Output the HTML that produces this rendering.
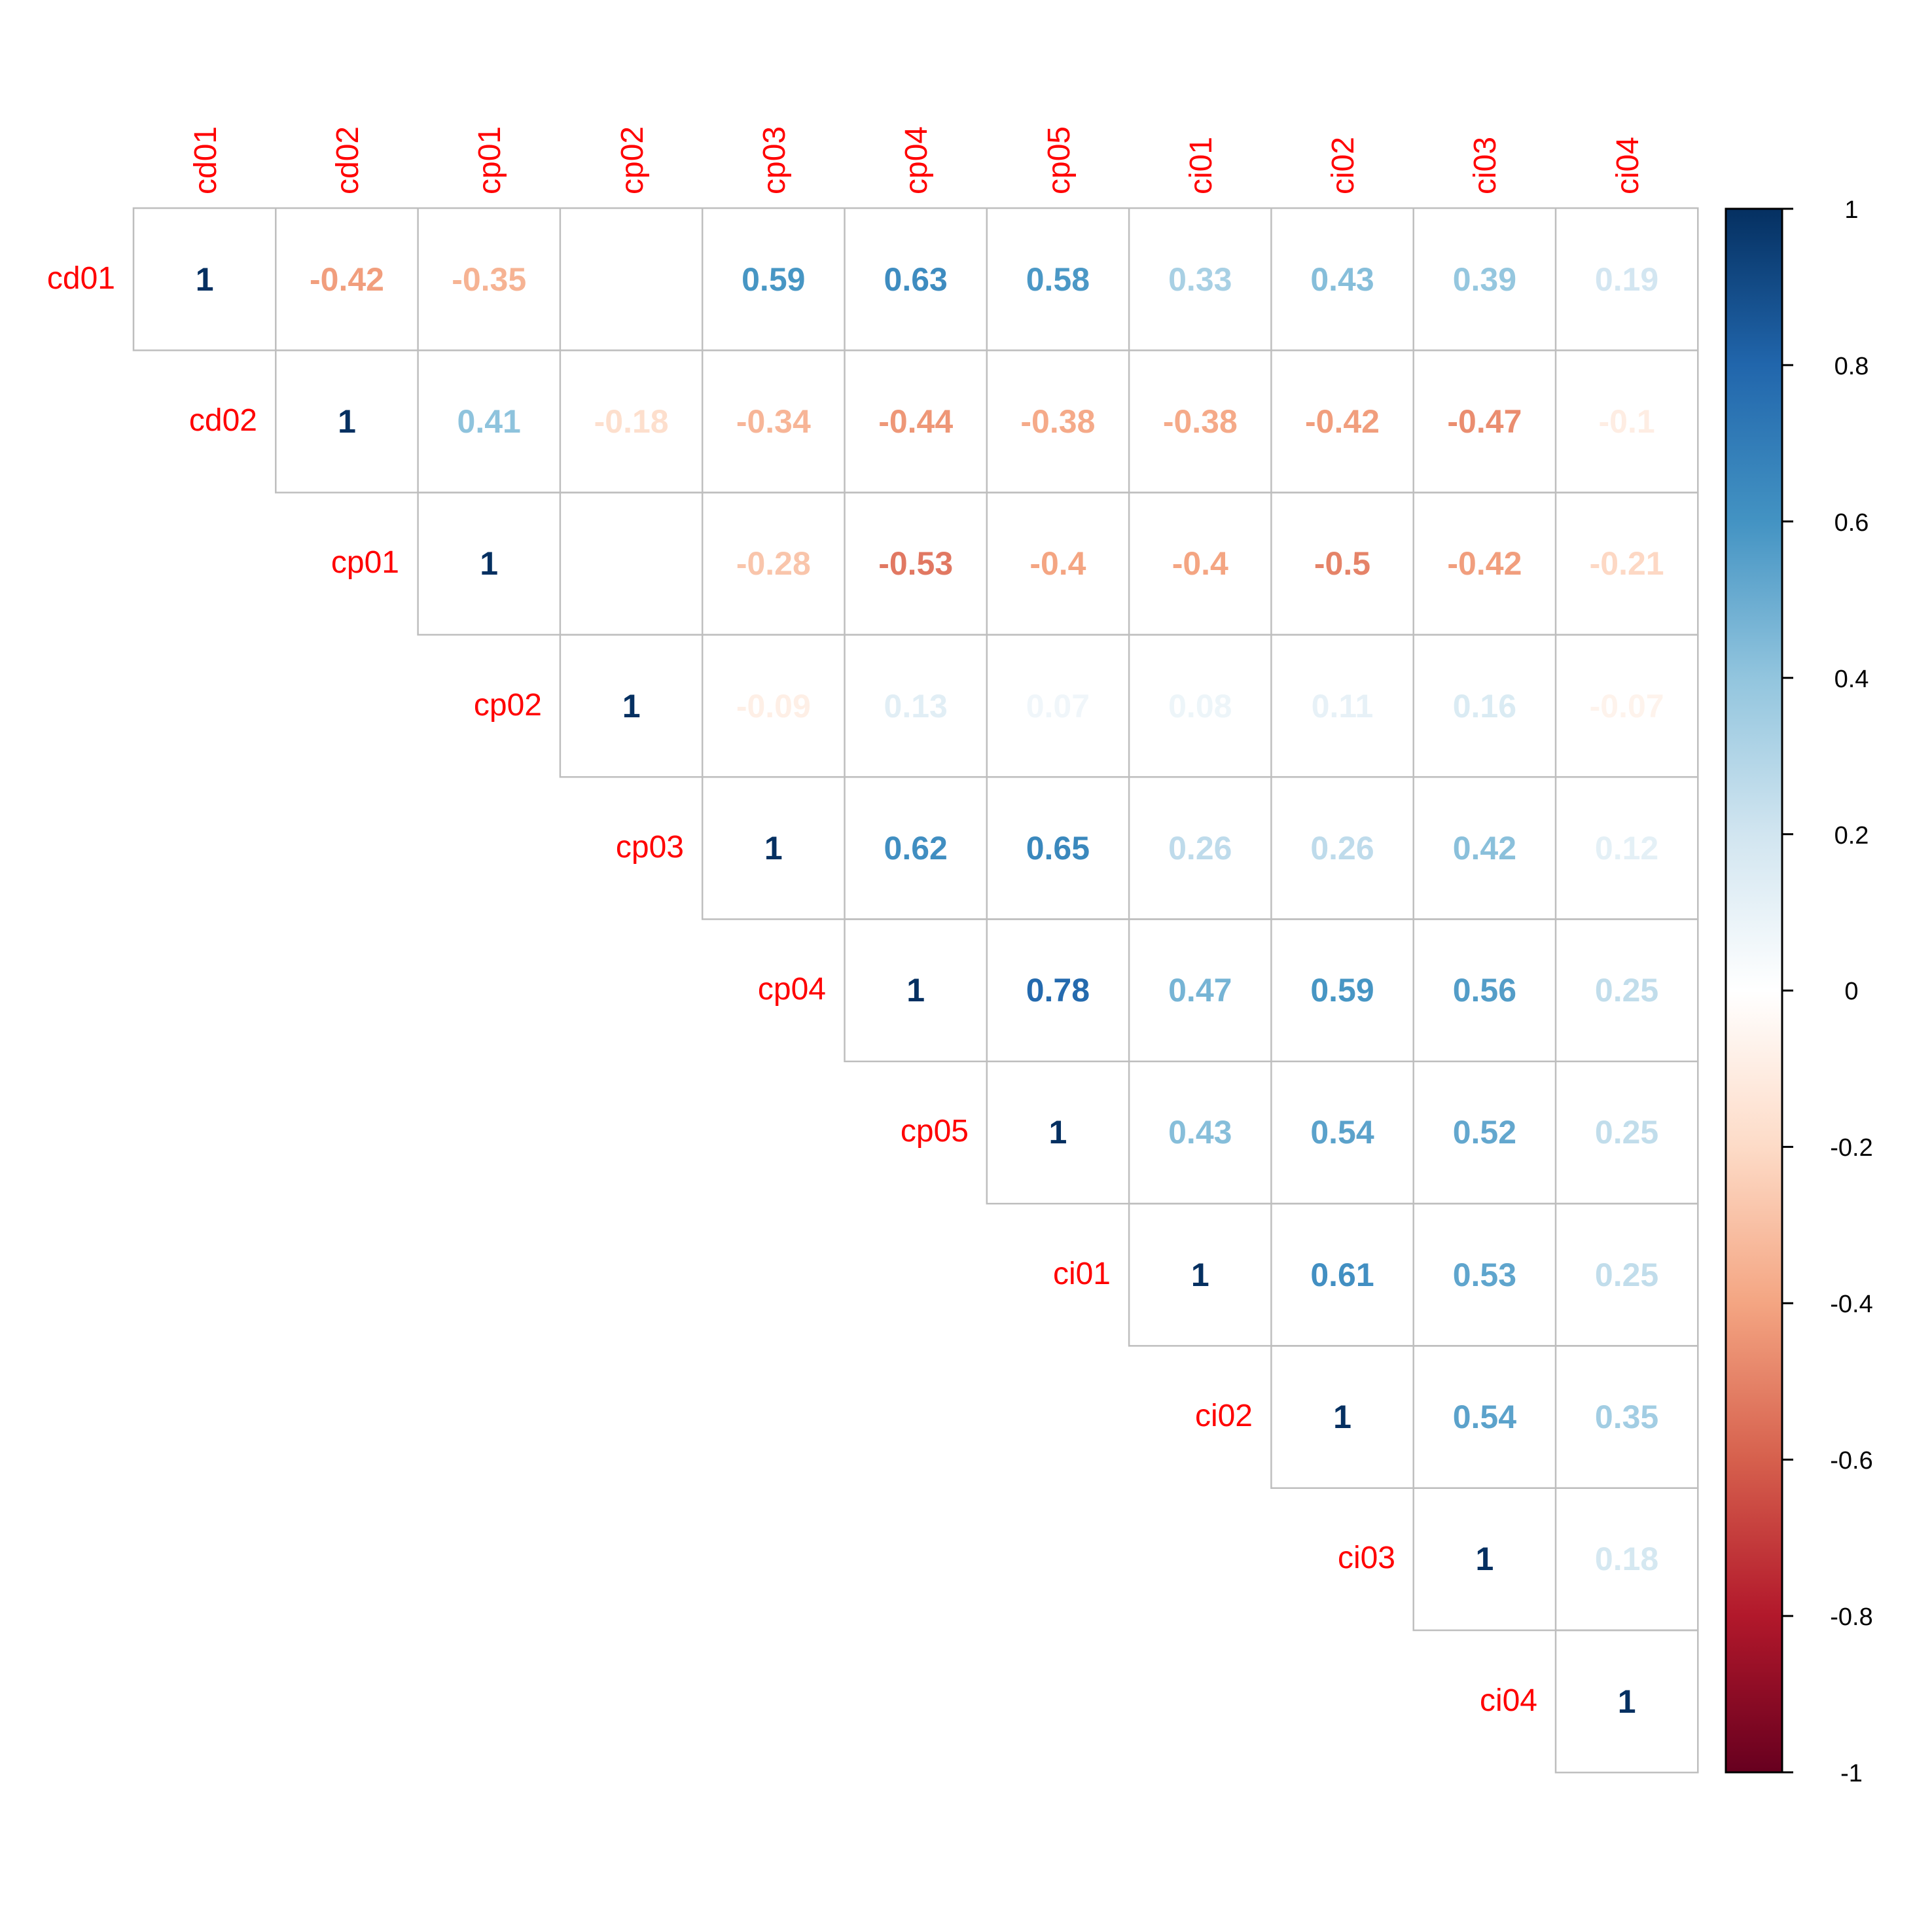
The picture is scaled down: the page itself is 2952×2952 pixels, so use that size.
<!DOCTYPE html>
<html><head><meta charset="utf-8"><style>html,body{margin:0;padding:0;background:#fff}svg{display:block}</style></head>
<body>
<svg width="2952" height="2952" viewBox="0 0 2952 2952" xmlns="http://www.w3.org/2000/svg">
<rect width="2952" height="2952" fill="#fff"/>
<defs>
<linearGradient id="g" x1="0" y1="0" x2="0" y2="1">
<stop offset="0" stop-color="#053061"/><stop offset="0.1" stop-color="#2166AC"/><stop offset="0.2" stop-color="#4393C3"/><stop offset="0.3" stop-color="#92C5DE"/><stop offset="0.4" stop-color="#D1E5F0"/><stop offset="0.5" stop-color="#FFFFFF"/><stop offset="0.6" stop-color="#FDDBC7"/><stop offset="0.7" stop-color="#F4A582"/><stop offset="0.8" stop-color="#D6604D"/><stop offset="0.9" stop-color="#B2182B"/><stop offset="1" stop-color="#67001F"/>
</linearGradient>
</defs>
<g fill="none" stroke="#BEBEBE" stroke-width="2.5">
<rect x="204" y="318" width="2390.3" height="217.3"/>
<rect x="421.3" y="535.3" width="2173" height="217.3"/>
<rect x="638.6" y="752.6" width="1955.7" height="217.3"/>
<rect x="855.9" y="969.9" width="1738.4" height="217.3"/>
<rect x="1073.2" y="1187.2" width="1521.1" height="217.3"/>
<rect x="1290.5" y="1404.5" width="1303.8" height="217.3"/>
<rect x="1507.8" y="1621.8" width="1086.5" height="217.3"/>
<rect x="1725.1" y="1839.1" width="869.2" height="217.3"/>
<rect x="1942.4" y="2056.4" width="651.9" height="217.3"/>
<rect x="2159.7" y="2273.7" width="434.6" height="217.3"/>
<rect x="2377" y="2491" width="217.3" height="217.3"/>
<path d="M421.3 318V535.3M638.6 318V752.6M855.9 318V969.9M1073.2 318V1187.2M1290.5 318V1404.5M1507.8 318V1621.8M1725.1 318V1839.1M1942.4 318V2056.4M2159.7 318V2273.7M2377 318V2491"/>
</g>
<g font-family="Liberation Sans, Arial, sans-serif" font-size="48" fill="#FF0000">
<g text-anchor="start">
<text transform="translate(330,297) rotate(-90)">cd01</text>
<text transform="translate(547,297) rotate(-90)">cd02</text>
<text transform="translate(764,297) rotate(-90)">cp01</text>
<text transform="translate(982,297) rotate(-90)">cp02</text>
<text transform="translate(1199,297) rotate(-90)">cp03</text>
<text transform="translate(1416,297) rotate(-90)">cp04</text>
<text transform="translate(1634,297) rotate(-90)">cp05</text>
<text transform="translate(1851,297) rotate(-90)">ci01</text>
<text transform="translate(2068,297) rotate(-90)">ci02</text>
<text transform="translate(2285,297) rotate(-90)">ci03</text>
<text transform="translate(2503,297) rotate(-90)">ci04</text>
</g>
<g text-anchor="end">
<text x="176" y="441">cd01</text>
<text x="393" y="658">cd02</text>
<text x="610" y="875">cp01</text>
<text x="828" y="1093">cp02</text>
<text x="1045" y="1310">cp03</text>
<text x="1262" y="1527">cp04</text>
<text x="1480" y="1744">cp05</text>
<text x="1697" y="1962">ci01</text>
<text x="1914" y="2179">ci02</text>
<text x="2132" y="2396">ci03</text>
<text x="2349" y="2614">ci04</text>
</g>
</g>
<g font-family="Liberation Sans, Arial, sans-serif" font-size="50" font-weight="bold" text-anchor="middle">
<text x="312.6" y="444" fill="#053061">1</text>
<text x="530" y="444" fill="#F19E7D">-0.42</text>
<text x="747.2" y="444" fill="#F6B393">-0.35</text>
<text x="1181.8" y="444" fill="#4796C4">0.59</text>
<text x="1399.2" y="444" fill="#3E8CC0">0.63</text>
<text x="1616.4" y="444" fill="#4B98C6">0.58</text>
<text x="1833.8" y="444" fill="#A8D0E4">0.33</text>
<text x="2051" y="444" fill="#86BEDA">0.43</text>
<text x="2268.4" y="444" fill="#95C7DF">0.39</text>
<text x="2485.6" y="444" fill="#D3E6F1">0.19</text>
<text x="530" y="661" fill="#053061">1</text>
<text x="747.2" y="661" fill="#8EC3DD">0.41</text>
<text x="964.6" y="661" fill="#FDDFCD">-0.18</text>
<text x="1181.8" y="661" fill="#F7B597">-0.34</text>
<text x="1399.2" y="661" fill="#EE9777">-0.44</text>
<text x="1616.4" y="661" fill="#F5AA89">-0.38</text>
<text x="1833.8" y="661" fill="#F5AA89">-0.38</text>
<text x="2051" y="661" fill="#F19E7D">-0.42</text>
<text x="2268.4" y="661" fill="#EA8D6F">-0.47</text>
<text x="2485.6" y="661" fill="#FEEDE3">-0.1</text>
<text x="747.2" y="878" fill="#053061">1</text>
<text x="1181.8" y="878" fill="#F9C5AB">-0.28</text>
<text x="1399.2" y="878" fill="#E17862">-0.53</text>
<text x="1616.4" y="878" fill="#F4A582">-0.4</text>
<text x="1833.8" y="878" fill="#F4A582">-0.4</text>
<text x="2051" y="878" fill="#E58368">-0.5</text>
<text x="2268.4" y="878" fill="#F19E7D">-0.42</text>
<text x="2485.6" y="878" fill="#FDD8C4">-0.21</text>
<text x="964.6" y="1096" fill="#053061">1</text>
<text x="1181.8" y="1096" fill="#FEEFE6">-0.09</text>
<text x="1399.2" y="1096" fill="#E1EEF5">0.13</text>
<text x="1616.4" y="1096" fill="#F0F6FA">0.07</text>
<text x="1833.8" y="1096" fill="#EDF5F9">0.08</text>
<text x="2051" y="1096" fill="#E7F1F7">0.11</text>
<text x="2268.4" y="1096" fill="#DAEBF3">0.16</text>
<text x="2485.6" y="1096" fill="#FEF3EC">-0.07</text>
<text x="1181.8" y="1313" fill="#053061">1</text>
<text x="1399.2" y="1313" fill="#408EC1">0.62</text>
<text x="1616.4" y="1313" fill="#3A88BD">0.65</text>
<text x="1833.8" y="1313" fill="#BEDBEB">0.26</text>
<text x="2051" y="1313" fill="#BEDBEB">0.26</text>
<text x="2268.4" y="1313" fill="#8AC0DB">0.42</text>
<text x="2485.6" y="1313" fill="#E4F0F6">0.12</text>
<text x="1399.2" y="1530" fill="#053061">1</text>
<text x="1616.4" y="1530" fill="#246AAE">0.78</text>
<text x="1833.8" y="1530" fill="#76B4D5">0.47</text>
<text x="2051" y="1530" fill="#4796C4">0.59</text>
<text x="2268.4" y="1530" fill="#539DC8">0.56</text>
<text x="2485.6" y="1530" fill="#C1DDEB">0.25</text>
<text x="1616.4" y="1747" fill="#053061">1</text>
<text x="1833.8" y="1747" fill="#86BEDA">0.43</text>
<text x="2051" y="1747" fill="#5BA2CB">0.54</text>
<text x="2268.4" y="1747" fill="#63A7CE">0.52</text>
<text x="2485.6" y="1747" fill="#C1DDEB">0.25</text>
<text x="1833.8" y="1965" fill="#053061">1</text>
<text x="2051" y="1965" fill="#428FC2">0.61</text>
<text x="2268.4" y="1965" fill="#5FA5CD">0.53</text>
<text x="2485.6" y="1965" fill="#C1DDEB">0.25</text>
<text x="2051" y="2182" fill="#053061">1</text>
<text x="2268.4" y="2182" fill="#5BA2CB">0.54</text>
<text x="2485.6" y="2182" fill="#A2CDE3">0.35</text>
<text x="2268.4" y="2399" fill="#053061">1</text>
<text x="2485.6" y="2399" fill="#D5E8F1">0.18</text>
<text x="2485.6" y="2617" fill="#053061">1</text>
</g>
<rect x="2637" y="319" width="86" height="2389" fill="url(#g)" stroke="#000" stroke-width="3"/>
<g stroke="#000" stroke-width="3">
<path d="M2723 319H2740M2723 557.9H2740M2723 796.8H2740M2723 1035.7H2740M2723 1274.6H2740M2723 1513.5H2740M2723 1752.4H2740M2723 1991.3H2740M2723 2230.2H2740M2723 2469.1H2740M2723 2708H2740"/>
</g>
<g font-family="Liberation Sans, Arial, sans-serif" font-size="38" fill="#000" text-anchor="middle">
<text x="2829" y="333">1</text>
<text x="2829" y="572">0.8</text>
<text x="2829" y="811">0.6</text>
<text x="2829" y="1050">0.4</text>
<text x="2829" y="1289">0.2</text>
<text x="2829" y="1527">0</text>
<text x="2829" y="1766">-0.2</text>
<text x="2829" y="2005">-0.4</text>
<text x="2829" y="2244">-0.6</text>
<text x="2829" y="2483">-0.8</text>
<text x="2829" y="2722">-1</text>
</g>
</svg>
</body></html>
